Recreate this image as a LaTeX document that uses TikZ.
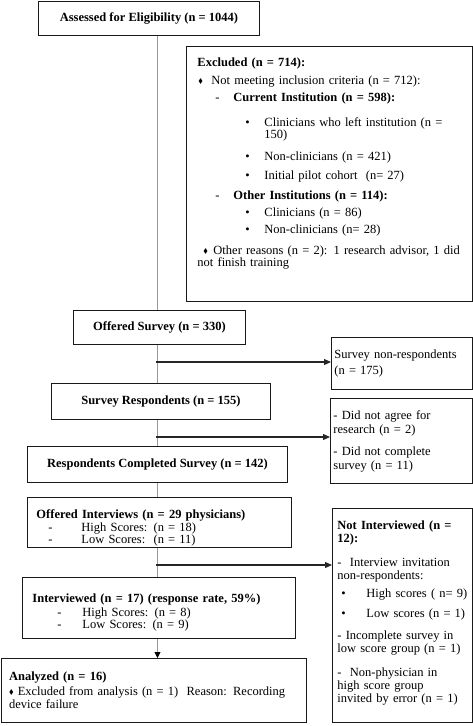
\documentclass[tikz,border=0pt]{standalone}
\usepackage{amssymb}
\usepackage{fontspec}
\setmainfont{Liberation Serif}
\usetikzlibrary{arrows.meta}

\newcommand{\dia}{\raisebox{1.5pt}{\scalebox{0.55}{$\blacklozenge$}}}
\newcommand{\ind}[3]{\hspace*{#1}\makebox[#2][l]{#3}}

\begin{document}
\begin{tikzpicture}
  [x=1pt,y=-1pt,
   box/.style={draw=black!90,line width=0.9pt,rectangle,anchor=north west,
     inner sep=0pt,font=\fontsize{12.5}{13}\selectfont},
   spine/.style={draw=black!40,line width=0.8pt},
   tip/.style={draw=black!85,line width=1.1pt,-{Triangle[length=7pt,width=6pt]}}]
  \useasboundingbox (0,0) rectangle (473,726);

  \node[box,minimum width=221,minimum height=34.5] (assess) at (38,0.6)
    {\textbf{Assessed for Eligibility (n = 1044)}};
  \node[box,minimum width=286,minimum height=255,text width=264,align=left,inner xsep=11] (excl) at (186,46)
    {\textbf{Excluded (n = 714):}\\[5pt]
     \ind{1pt}{13pt}{\dia}Not meeting inclusion criteria (n = 712):\\[4pt]
     \ind{18pt}{18pt}{-}\textbf{Current Institution (n = 598):}\\[12pt]
     \ind{48pt}{19pt}{\textbullet}Clinicians who left institution (n =\\[-1pt]
     \hspace*{67pt}150)\\[9pt]
     \ind{48pt}{19pt}{\textbullet}Non-clinicians (n = 421)\\[6pt]
     \ind{48pt}{19pt}{\textbullet}Initial pilot cohort\ \ (n= 27)\\[7pt]
     \ind{18pt}{18pt}{-}\textbf{Other Institutions (n = 114):}\\[4pt]
     \ind{48pt}{19pt}{\textbullet}Clinicians (n = 86)\\[4pt]
     \ind{48pt}{19pt}{\textbullet}Non-clinicians (n= 28)\\[8pt]
     \ind{6pt}{10pt}{\dia}Other reasons (n = 2): 1 research advisor, 1 did\\[-1pt]
     not finish training\\[10pt]\mbox{}};
  \node[box,minimum width=172,minimum height=34] (offsurv) at (73,310)
    {\textbf{Offered Survey (n = 330)}};
  \node[box,minimum width=141,minimum height=52,text width=135,align=left,inner xsep=3] (nonresp) at (331,337)
    {Survey non-respondents\\[3pt](n = 175)};
  \node[box,minimum width=219,minimum height=36] (resp) at (51,383)
    {\textbf{Survey Respondents (n = 155)}};
  \node[box,minimum width=142,minimum height=85,text width=136,align=left,inner xsep=3] (noagree) at (330,398)
    {- Did not agree for\\[1pt]research (n = 2)\\[9pt]- Did not complete\\[1pt]survey (n = 11)};
  \node[box,minimum width=260,minimum height=36] (complete) at (27,446)
    {\textbf{Respondents Completed Survey (n = 142)}};
  \node[box,minimum width=264,minimum height=50,text width=246,align=left,inner xsep=9] (offint) at (27,497)
    {\mbox{}\\[6pt]
     \textbf{Offered Interviews (n = 29 physicians)}\\
     \ind{12pt}{33pt}{-}High Scores: (n = 18)\\[-1pt]
     \ind{12pt}{33pt}{-}Low Scores:\ \ (n = 11)};
  \node[box,minimum width=140,minimum height=214,text width=130,align=left,inner xsep=5] (notint) at (332,508)
    {\textbf{Not Interviewed (n =}\\
     \textbf{12):}\\[11pt]
     -\ \ Interview invitation\\
     non-respondents:\\[5pt]
     \ind{4pt}{25pt}{\textbullet}High scores ( n= 9)\\[7pt]
     \ind{4pt}{25pt}{\textbullet}Low scores (n = 1)\\[9pt]
     - Incomplete survey in\\
     low score group (n = 1)\\[11pt]
     -\ \ Non-physician in\\
     high score group\\
     invited by error (n = 1)\\[-6pt]\mbox{}};
  \node[box,minimum width=273,minimum height=61,text width=253,align=left,inner xsep=10] (interv) at (22,577)
    {\mbox{}\\[4pt]
     \textbf{Interviewed (n = 17) (response rate, 59\%)}\\[1pt]
     \ind{25pt}{25pt}{-}High Scores: (n = 8)\\[-1pt]
     \ind{25pt}{25pt}{-}Low Scores: (n = 9)};
  \node[box,minimum width=305,minimum height=64,text width=289,align=left,inner xsep=8] (analyz) at (0.6,658)
    {\textbf{Analyzed (n = 16)}\\[2pt]
     \dia\ Excluded from analysis (n = 1)\ \ Reason: Recording\\
     device failure};

  \coordinate (sp) at (157.5,0);
  \coordinate (s1) at (156,362);
  \coordinate (s2) at (156,437);
  \coordinate (s3) at (156,565);

\foreach \from/\to in {assess/offsurv, offsurv/resp, resp/complete, complete/offint, offint/interv}
    \draw[spine] (\from.south -| sp) -- (\to.north -| sp);
    \draw[spine,-{Triangle[length=6pt,width=6pt,color=black]}] (interv.south -| sp) -- (analyz.north -| sp);
\foreach \from/\to in {s1/nonresp, s2/noagree, s3/notint}
    \draw[tip] (\from) -- (\from -| \to.west);
\end{tikzpicture}
\end{document}
